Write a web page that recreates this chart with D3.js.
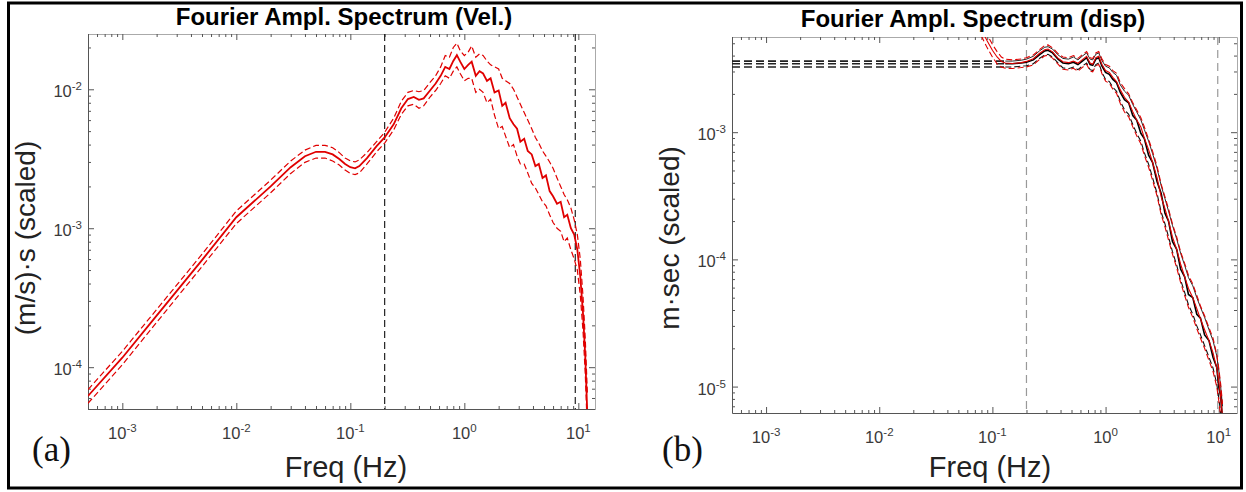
<!DOCTYPE html>
<html>
<head>
<meta charset="utf-8">
<script src="https://cdn.jsdelivr.net/npm/d3@7"></script>
<style>
  body { margin: 0; background: #fff; }
  svg { display: block; }
  text { font-family: Arial, "Liberation Sans", sans-serif; }
</style>
</head>
<body>
<svg id="fig" width="1246" height="492"></svg>
<script>
// ---- panel (a): velocity spectrum ----
const velFreq = [
  5e-4, 1e-3, 2e-3, 5e-3, 0.01,
  0.02, 0.03, 0.04, 0.05, 0.06,
  0.07, 0.08, 0.09, 0.1, 0.11,
  0.12, 0.14, 0.17, 0.2, 0.24,
  0.28, 0.32, 0.36, 0.4, 0.44,
  0.5, 0.56, 0.62, 0.68, 0.74,
  0.8, 0.86, 0.92, 1.0, 1.08,
  1.16, 1.26, 1.36, 1.46, 1.58,
  1.7, 1.84, 2.0, 2.15, 2.3,
  2.5, 2.7, 2.9, 3.1, 3.35,
  3.6, 3.9, 4.2, 4.5, 4.85,
  5.2, 5.6, 6.0, 6.5, 7.0,
  7.5, 8.0, 8.6, 9.2, 9.8,
  10.4, 11.0, 11.5, 12.0
];
const velMid = [
  6.2e-5, 1.17e-4, 2.35e-4, 5.9e-4, 1.2e-3,
  2.0e-3, 2.75e-3, 3.3e-3, 3.55e-3, 3.55e-3,
  3.4e-3, 3.15e-3, 2.9e-3, 2.75e-3, 2.7e-3,
  2.8e-3, 3.2e-3, 3.9e-3, 4.5e-3, 5.6e-3,
  7.3e-3, 8.5e-3, 8.8e-3, 8.4e-3, 8.6e-3,
  9.8e-3, 1.1e-2, 1.25e-2, 1.45e-2, 1.4e-2,
  1.6e-2, 1.76e-2, 1.58e-2, 1.4e-2, 1.5e-2,
  1.58e-2, 1.25e-2, 1.35e-2, 1.3e-2, 1.15e-2,
  1.2e-2, 9.5e-3, 9.8e-3, 7.6e-3, 8.0e-3,
  6.2e-3, 5.6e-3, 5.2e-3, 4.2e-3, 4.4e-3,
  3.6e-3, 3.4e-3, 2.8e-3, 2.9e-3, 2.3e-3,
  2.4e-3, 1.85e-3, 1.7e-3, 1.5e-3, 1.55e-3,
  1.2e-3, 1.25e-3, 1.0e-3, 9.0e-4, 7.0e-4,
  4.5e-4, 2.4e-4, 1.2e-4, 4.5e-5
];
const velHi = [
  6.9e-5, 1.3e-4, 2.6e-4, 6.5e-4, 1.33e-3,
  2.22e-3, 3.05e-3, 3.65e-3, 3.95e-3, 3.95e-3,
  3.8e-3, 3.5e-3, 3.2e-3, 3.05e-3, 3.0e-3,
  3.1e-3, 3.5e-3, 4.2e-3, 4.9e-3, 6.2e-3,
  8.2e-3, 9.5e-3, 9.8e-3, 9.6e-3, 9.8e-3,
  1.12e-2, 1.25e-2, 1.45e-2, 1.75e-2, 1.7e-2,
  2.0e-2, 2.15e-2, 1.9e-2, 1.75e-2, 1.85e-2,
  2.05e-2, 1.7e-2, 1.8e-2, 1.75e-2, 1.6e-2,
  1.5e-2, 1.45e-2, 1.4e-2, 1.2e-2, 1.15e-2,
  1.1e-2, 1.0e-2, 8.8e-3, 7.8e-3, 6.8e-3,
  6.0e-3, 5.2e-3, 4.5e-3, 4.1e-3, 3.6e-3,
  3.3e-3, 3.0e-3, 2.7e-3, 2.3e-3, 2.0e-3,
  1.75e-3, 1.6e-3, 1.4e-3, 1.15e-3, 9.0e-4,
  6.0e-4, 3.2e-4, 1.6e-4, 6.5e-5
];
const velLo = [
  5.5e-5, 1.04e-4, 2.1e-4, 5.3e-4, 1.08e-3,
  1.8e-3, 2.48e-3, 2.98e-3, 3.2e-3, 3.2e-3,
  3.05e-3, 2.85e-3, 2.62e-3, 2.48e-3, 2.43e-3,
  2.5e-3, 2.9e-3, 3.55e-3, 4.1e-3, 5.1e-3,
  6.6e-3, 7.6e-3, 7.8e-3, 7.3e-3, 7.6e-3,
  8.8e-3, 9.8e-3, 1.1e-2, 1.25e-2, 1.2e-2,
  1.35e-2, 1.45e-2, 1.3e-2, 1.15e-2, 1.2e-2,
  1.2e-2, 9.5e-3, 1.0e-2, 9.5e-3, 8.0e-3,
  8.5e-3, 6.5e-3, 5.2e-3, 5.4e-3, 4.6e-3,
  3.8e-3, 4.0e-3, 3.3e-3, 2.9e-3, 2.9e-3,
  2.5e-3, 2.1e-3, 1.95e-3, 1.75e-3, 1.55e-3,
  1.45e-3, 1.25e-3, 1.1e-3, 1.0e-3, 9.5e-4,
  8.0e-4, 8.5e-4, 7.0e-4, 6.0e-4, 5.0e-4,
  3.3e-4, 1.8e-4, 9.0e-5, 3.5e-5
];
const velMarkers = [0.2, 9.4];

// ---- panel (b): displacement spectrum ----
const dispFreq = [
  0.13, 0.15, 0.18, 0.2, 0.23,
  0.26, 0.29, 0.31, 0.34, 0.38,
  0.42, 0.47, 0.52, 0.57, 0.62,
  0.68, 0.73, 0.77, 0.82, 0.87,
  0.93, 1.0, 1.08, 1.16, 1.25,
  1.35, 1.47, 1.6, 1.74, 1.88,
  2.05, 2.2, 2.4, 2.6, 2.85,
  3.1, 3.35, 3.6, 3.9, 4.25,
  4.6, 5.0, 5.4, 5.9, 6.4,
  6.9, 7.5, 8.2, 8.9, 9.6,
  10.0, 10.4, 10.8
];
const dispBlackMid = [
  3.45e-3, 3.45e-3, 3.5e-3, 3.55e-3, 3.7e-3,
  4.05e-3, 4.35e-3, 4.4e-3, 4.2e-3, 3.75e-3,
  3.5e-3, 3.45e-3, 3.55e-3, 3.4e-3, 3.6e-3,
  3.85e-3, 3.4e-3, 3.35e-3, 3.75e-3, 3.85e-3,
  3.3e-3, 2.95e-3, 2.85e-3, 2.6e-3, 2.45e-3,
  2.05e-3, 1.8e-3, 1.7e-3, 1.35e-3, 1.25e-3,
  9.8e-4, 8.9e-4, 6.6e-4, 5.8e-4, 4.1e-4,
  3.3e-4, 2.3e-4, 2.0e-4, 1.38e-4, 1.2e-4,
  8.4e-5, 7.3e-5, 5.3e-5, 5.0e-5, 3.7e-5,
  3.45e-5, 2.55e-5, 2.3e-5, 1.7e-5, 1.42e-5,
  1.0e-5, 8.4e-6, 5.5e-6
];
const dispBlackHi = [
  3.62e-3, 3.62e-3, 3.68e-3, 3.75e-3, 3.95e-3,
  4.35e-3, 4.65e-3, 4.7e-3, 4.5e-3, 4.05e-3,
  3.8e-3, 3.75e-3, 3.9e-3, 3.7e-3, 3.95e-3,
  4.2e-3, 3.75e-3, 3.7e-3, 4.1e-3, 4.2e-3,
  3.65e-3, 3.3e-3, 3.2e-3, 2.95e-3, 2.8e-3,
  2.35e-3, 2.1e-3, 1.95e-3, 1.65e-3, 1.45e-3,
  1.25e-3, 1.05e-3, 8.5e-4, 6.8e-4, 5.2e-4,
  3.8e-4, 3.0e-4, 2.4e-4, 1.85e-4, 1.45e-4,
  1.12e-4, 9.0e-5, 7.2e-5, 6.2e-5, 5.0e-5,
  4.2e-5, 3.5e-5, 2.8e-5, 2.3e-5, 1.75e-5,
  1.35e-5, 1.0e-5, 7e-6
];
const dispBlackLo = [
  3.25e-3, 3.25e-3, 3.3e-3, 3.33e-3, 3.45e-3,
  3.8e-3, 4.05e-3, 4.1e-3, 3.9e-3, 3.5e-3,
  3.2e-3, 3.15e-3, 3.25e-3, 3.1e-3, 3.3e-3,
  3.5e-3, 3.1e-3, 3.05e-3, 3.4e-3, 3.5e-3,
  2.95e-3, 2.6e-3, 2.5e-3, 2.25e-3, 2.1e-3,
  1.75e-3, 1.5e-3, 1.38e-3, 1.15e-3, 9.8e-4,
  8.5e-4, 6.9e-4, 5.6e-4, 4.4e-4, 3.3e-4,
  2.35e-4, 1.9e-4, 1.5e-4, 1.15e-4, 9.0e-5,
  6.9e-5, 5.5e-5, 4.4e-5, 3.7e-5, 3.0e-5,
  2.55e-5, 2.1e-5, 1.7e-5, 1.4e-5, 1.05e-5,
  8.2e-6, 6.2e-6, 4.3e-6
];
// red curves start lower in frequency and rise off the top
const dispRedFreq = [0.05, 0.06, 0.07, 0.08, 0.09, 0.1, 0.11, 0.12].concat(dispFreq);
const dispRedMid = [
  1.3e-2, 1.02e-2, 8.2e-3, 6.4e-3, 5.2e-3, 4.4e-3, 3.9e-3, 3.6e-3,
  3.5e-3, 3.47e-3, 3.52e-3, 3.6e-3, 3.78e-3,
  4.15e-3, 4.45e-3, 4.5e-3, 4.28e-3, 3.82e-3,
  3.58e-3, 3.52e-3, 3.62e-3, 3.48e-3, 3.7e-3,
  3.95e-3, 3.5e-3, 3.42e-3, 3.85e-3, 3.95e-3,
  3.4e-3, 3.05e-3, 2.95e-3, 2.7e-3, 2.5e-3,
  2.15e-3, 1.88e-3, 1.72e-3, 1.45e-3, 1.25e-3,
  1.1e-3, 9.0e-4, 7.3e-4, 5.8e-4, 4.4e-4,
  3.1e-4, 2.5e-4, 2.0e-4, 1.5e-4, 1.2e-4,
  9.2e-5, 7.3e-5, 5.9e-5, 5.0e-5, 4.1e-5,
  3.4e-5, 2.8e-5, 2.3e-5, 1.85e-5, 1.4e-5,
  1.1e-5, 8.3e-6, 5.8e-6
];
const dispRedHi = [
  1.45e-2, 1.15e-2, 9.2e-3, 7.2e-3, 5.8e-3, 4.9e-3, 4.3e-3, 3.9e-3,
  3.75e-3, 3.7e-3, 3.76e-3, 3.85e-3, 4.05e-3,
  4.45e-3, 4.8e-3, 4.85e-3, 4.6e-3, 4.15e-3,
  3.9e-3, 3.85e-3, 4.0e-3, 3.8e-3, 4.05e-3,
  4.3e-3, 3.85e-3, 3.8e-3, 4.2e-3, 4.3e-3,
  3.75e-3, 3.4e-3, 3.3e-3, 3.05e-3, 2.9e-3,
  2.45e-3, 2.2e-3, 2.0e-3, 1.7e-3, 1.5e-3,
  1.3e-3, 1.1e-3, 8.8e-4, 7.1e-4, 5.4e-4,
  3.9e-4, 3.1e-4, 2.5e-4, 1.9e-4, 1.5e-4,
  1.15e-4, 9.3e-5, 7.5e-5, 6.4e-5, 5.2e-5,
  4.3e-5, 3.6e-5, 2.9e-5, 2.4e-5, 1.8e-5,
  1.4e-5, 1.05e-5, 7.3e-6
];
const dispRedLo = [
  1.15e-2, 9.1e-3, 7.3e-3, 5.7e-3, 4.6e-3, 3.9e-3, 3.45e-3, 3.25e-3,
  3.18e-3, 3.17e-3, 3.22e-3, 3.26e-3, 3.38e-3,
  3.72e-3, 3.98e-3, 4.02e-3, 3.82e-3, 3.42e-3,
  3.12e-3, 3.08e-3, 3.18e-3, 3.02e-3, 3.22e-3,
  3.42e-3, 3.02e-3, 2.98e-3, 3.32e-3, 3.42e-3,
  2.88e-3, 2.52e-3, 2.42e-3, 2.18e-3, 2.02e-3,
  1.68e-3, 1.44e-3, 1.32e-3, 1.1e-3, 9.4e-4,
  8.1e-4, 6.6e-4, 5.3e-4, 4.2e-4, 3.15e-4,
  2.25e-4, 1.8e-4, 1.42e-4, 1.1e-4, 8.6e-5,
  6.6e-5, 5.2e-5, 4.2e-5, 3.5e-5, 2.85e-5,
  2.4e-5, 2.0e-5, 1.6e-5, 1.32e-5, 1.0e-5,
  7.8e-6, 5.9e-6, 4.1e-6
];
// flat low-frequency levels of the black curves (dashed extension)
const dispFlatLevels = [3.62e-3, 3.45e-3, 3.25e-3];
const dispFlatRange = [5e-4, 0.13];
const dispMarkers = [0.2, 9.8];

const svg = d3.select('#fig');

// outer frame round the whole figure
svg.append('rect')
  .attr('x', 8.5).attr('y', 3).attr('width', 1233).attr('height', 485)
  .attr('fill', 'none').attr('stroke', '#000').attr('stroke-width', 3);

function isMajor(d) {
  return Math.abs(Math.log10(d) - Math.round(Math.log10(d))) < 1e-9;
}

// all 1..9 x 10^k values inside a log domain
function logTicks(domain) {
  const out = [];
  const lo = Math.floor(Math.log10(domain[0])), hi = Math.ceil(Math.log10(domain[1]));
  for (let e = lo; e <= hi; e++) {
    for (let k = 1; k <= 9; k++) {
      const v = k * Math.pow(10, e);
      if (v >= domain[0] * 0.999 && v <= domain[1] * 1.001) out.push(v);
    }
  }
  return out;
}

function powLabel(sel) {
  sel.each(function(d) {
    const t = d3.select(this);
    t.append('tspan').text('10');
    t.append('tspan').attr('dy', -7).attr('font-size', 11.5).text(Math.round(Math.log10(d)));
  });
}

function drawPanel(cfg) {
  const g = svg.append('g');
  const x = d3.scaleLog().domain(cfg.xDomain).range([cfg.left, cfg.right]);
  const y = d3.scaleLog().domain(cfg.yDomain).range([cfg.bottom, cfg.top]);

  g.append('clipPath').attr('id', cfg.id + '-clip')
    .append('rect')
    .attr('x', cfg.left).attr('y', cfg.top)
    .attr('width', cfg.right - cfg.left).attr('height', cfg.bottom - cfg.top);

  const xt = logTicks(cfg.xDomain);
  const yt = logTicks(cfg.yDomain);
  const dark = '#555', light = '#aaa';

  // bottom, top, left, right axes; ticks pointing inward like MATLAB
  const axB = g.append('g').attr('transform', `translate(0,${cfg.bottom})`)
    .call(d3.axisBottom(x).tickValues(xt).tickSizeOuter(0).tickSizeInner(0).tickFormat(''));
  axB.selectAll('.tick line').attr('y2', d => isMajor(d) ? -6 : -3).attr('stroke', dark);
  axB.select('.domain').attr('stroke', dark);

  const axT = g.append('g').attr('transform', `translate(0,${cfg.top})`)
    .call(d3.axisTop(x).tickValues(xt).tickSizeOuter(0).tickSizeInner(0).tickFormat(''));
  axT.selectAll('.tick line').attr('y2', d => isMajor(d) ? 6 : 3).attr('stroke', dark);
  axT.select('.domain').attr('stroke', light);

  const axL = g.append('g').attr('transform', `translate(${cfg.left},0)`)
    .call(d3.axisLeft(y).tickValues(yt).tickSizeOuter(0).tickSizeInner(0).tickFormat(''));
  axL.selectAll('.tick line').attr('x2', d => isMajor(d) ? 6 : 3).attr('stroke', dark);
  axL.select('.domain').attr('stroke', dark);

  const axR = g.append('g').attr('transform', `translate(${cfg.right},0)`)
    .call(d3.axisRight(y).tickValues(yt).tickSizeOuter(0).tickSizeInner(0).tickFormat(''));
  axR.selectAll('.tick line').attr('x2', d => isMajor(d) ? -6 : -3).attr('stroke', dark);
  axR.select('.domain').attr('stroke', light);

  // tick labels
  g.selectAll('.xlab').data(xt.filter(isMajor)).join('text')
    .attr('class', 'xlab')
    .attr('x', d => x(d)).attr('y', cfg.bottom + 30)
    .attr('text-anchor', 'middle').attr('font-size', 16.5).attr('fill', '#3a3a3a')
    .call(powLabel);
  g.selectAll('.ylab').data(yt.filter(isMajor)).join('text')
    .attr('class', 'ylab')
    .attr('x', cfg.left - 6).attr('y', d => y(d) + 8)
    .attr('text-anchor', 'end').attr('font-size', 16.5).attr('fill', '#3a3a3a')
    .call(powLabel);

  // titles and axis names
  g.append('text').attr('x', cfg.titleX).attr('y', cfg.titleY)
    .attr('text-anchor', 'middle').attr('font-size', 24).attr('font-weight', 'bold')
    .attr('fill', '#000').text(cfg.title);
  g.append('text').attr('x', cfg.xLabelX).attr('y', 477)
    .attr('text-anchor', 'middle').attr('font-size', 29).attr('fill', '#222')
    .text('Freq (Hz)');
  g.append('text')
    .attr('transform', `translate(${cfg.left - 53},238) rotate(-90)`)
    .attr('text-anchor', 'middle').attr('font-size', 28).attr('fill', '#222')
    .text(cfg.yLabel);
  g.append('text').attr('x', cfg.tagX).attr('y', 461)
    .style('font-family', '"Liberation Serif", "Times New Roman", serif')
    .attr('font-size', 35).attr('fill', '#111').text(cfg.tag);

  const plot = g.append('g').attr('clip-path', `url(#${cfg.id}-clip)`);
  const line = d3.line().x(d => x(d[0])).y(d => y(d[1]));

  // vertical frequency markers
  plot.selectAll('.marker').data(cfg.markers).join('line')
    .attr('x1', d => x(d)).attr('x2', d => x(d))
    .attr('y1', cfg.top).attr('y2', cfg.bottom)
    .attr('stroke', cfg.markerColor).attr('stroke-width', 1.2)
    .attr('stroke-dasharray', cfg.markerDash);

  return { plot, line, x, y };
}

// panel (a)
const pa = drawPanel({
  id: 'pa', left: 88, right: 595, top: 34, bottom: 409,
  xDomain: [5e-4, 14], yDomain: [5e-5, 2.5e-2],
  title: 'Fourier Ampl. Spectrum (Vel.)', titleX: 344, titleY: 25,
  xLabelX: 346, yLabel: '(m/s)\u00b7s (scaled)', tag: '(a)', tagX: 32,
  markers: velMarkers, markerColor: '#222', markerDash: '7,4'
});
[
  { v: velHi, dash: '6,3', w: 1.2 },
  { v: velLo, dash: '6,3', w: 1.2 },
  { v: velMid, dash: null, w: 1.8 }
].forEach(s => {
  pa.plot.append('path')
    .datum(d3.zip(velFreq, s.v))
    .attr('d', pa.line)
    .attr('fill', 'none').attr('stroke', '#e00000')
    .attr('stroke-width', s.w).attr('stroke-dasharray', s.dash);
});

// panel (b)
const pb = drawPanel({
  id: 'pb', left: 732, right: 1237, top: 37, bottom: 413,
  xDomain: [5e-4, 14.5], yDomain: [6.2e-6, 5.6e-3],
  title: 'Fourier Ampl. Spectrum (disp)', titleX: 973, titleY: 27,
  xLabelX: 990, yLabel: 'm\u00b7sec (scaled)', tag: '(b)', tagX: 662,
  markers: dispMarkers, markerColor: '#999', markerDash: '8,5'
});
pb.plot.selectAll('.flat').data(dispFlatLevels).join('line')
  .attr('x1', pb.x(dispFlatRange[0])).attr('x2', pb.x(dispFlatRange[1]))
  .attr('y1', d => pb.y(d)).attr('y2', d => pb.y(d))
  .attr('stroke', '#222').attr('stroke-width', 1.6).attr('stroke-dasharray', '8,4');
[
  { f: dispFreq, v: dispBlackHi, c: '#111', dash: null, w: 0.9 },
  { f: dispFreq, v: dispBlackLo, c: '#111', dash: '6,3', w: 1.1 },
  { f: dispFreq, v: dispBlackMid, c: '#000', dash: null, w: 1.6 },
  { f: dispRedFreq, v: dispRedHi, c: '#e00000', dash: '6,3', w: 1.1 },
  { f: dispRedFreq, v: dispRedLo, c: '#e00000', dash: '6,3', w: 1.1 },
  { f: dispRedFreq, v: dispRedMid, c: '#e00000', dash: null, w: 1.1 }
].forEach(s => {
  pb.plot.append('path')
    .datum(d3.zip(s.f, s.v))
    .attr('d', pb.line)
    .attr('fill', 'none').attr('stroke', s.c)
    .attr('stroke-width', s.w).attr('stroke-dasharray', s.dash);
});
</script>
</body>
</html>
